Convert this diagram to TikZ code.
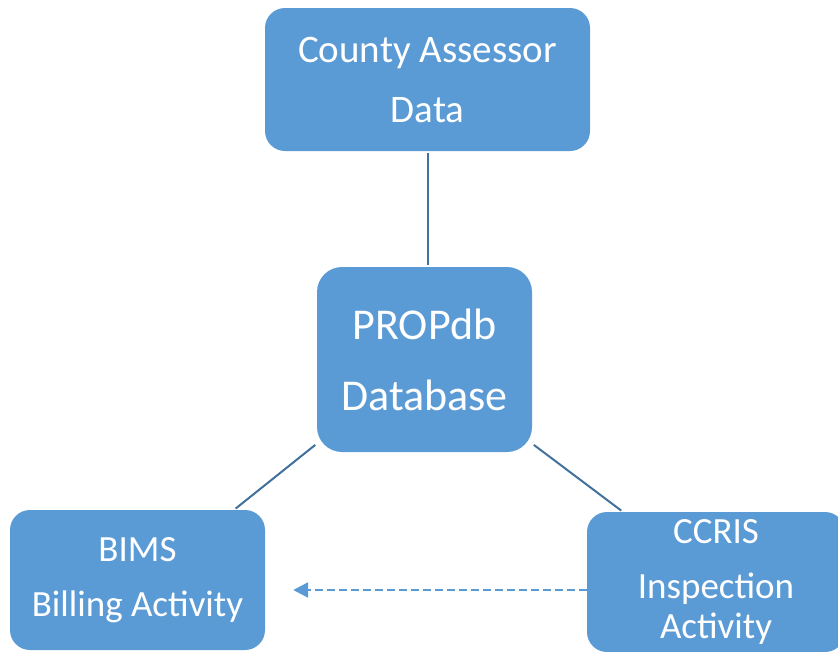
\documentclass[tikz,border=0pt]{standalone}
\usepackage{fontspec}
\setmainfont{Carlito}
\usetikzlibrary{arrows.meta}
\definecolor{boxblue}{HTML}{5B9BD5}
\definecolor{linkblue}{HTML}{41719C}

\begin{document}
\begin{tikzpicture}[
    x=1pt, y=-1pt,
    block/.style={rectangle, fill=boxblue, text=white, align=center, rounded corners=20pt, inner sep=0pt},
    line/.style={draw=linkblue, line width=2pt, shorten <=2pt, shorten >=2pt},
    feed/.style={draw=boxblue, line width=2.5pt, dash pattern=on 8pt off 4pt, -{Triangle[length=15pt,width=15pt]}}
    ]
    \useasboundingbox (0,0) rectangle (838,651);
    \node [block, minimum width=325pt, minimum height=143pt, font=\fontsize{39}{60}\selectfont] (assessor) at (427.5,79.5) {County Assessor\\Data};
    \node [block, minimum width=215pt, minimum height=185pt, rounded corners=25pt, font=\fontsize{44}{71}\selectfont] (propdb) at (424.5,359.5) {PROPdb\\Database};
    \node [block, minimum width=255pt, minimum height=140pt, font=\fontsize{37}{55}\selectfont] (bims) at (137.5,580) {BIMS\\Billing Activity};
    \node [block, minimum width=258pt, minimum height=140pt, font=\fontsize{37}{55}\selectfont] (ccris) at (716,582) {CCRIS\\Inspection\\[-15pt]Activity};

    \draw [line] (assessor.south) -- (assessor.south |- propdb.north);
    \draw [line] (propdb.218) -- (bims.36.5);
    \draw [line] (propdb.322.5) -- (ccris.143.9);
    \draw [feed] ([yshift=-10pt]bims.east -| ccris.west) -- ([xshift=28pt,yshift=-10pt]bims.east);
\end{tikzpicture}
\end{document}
